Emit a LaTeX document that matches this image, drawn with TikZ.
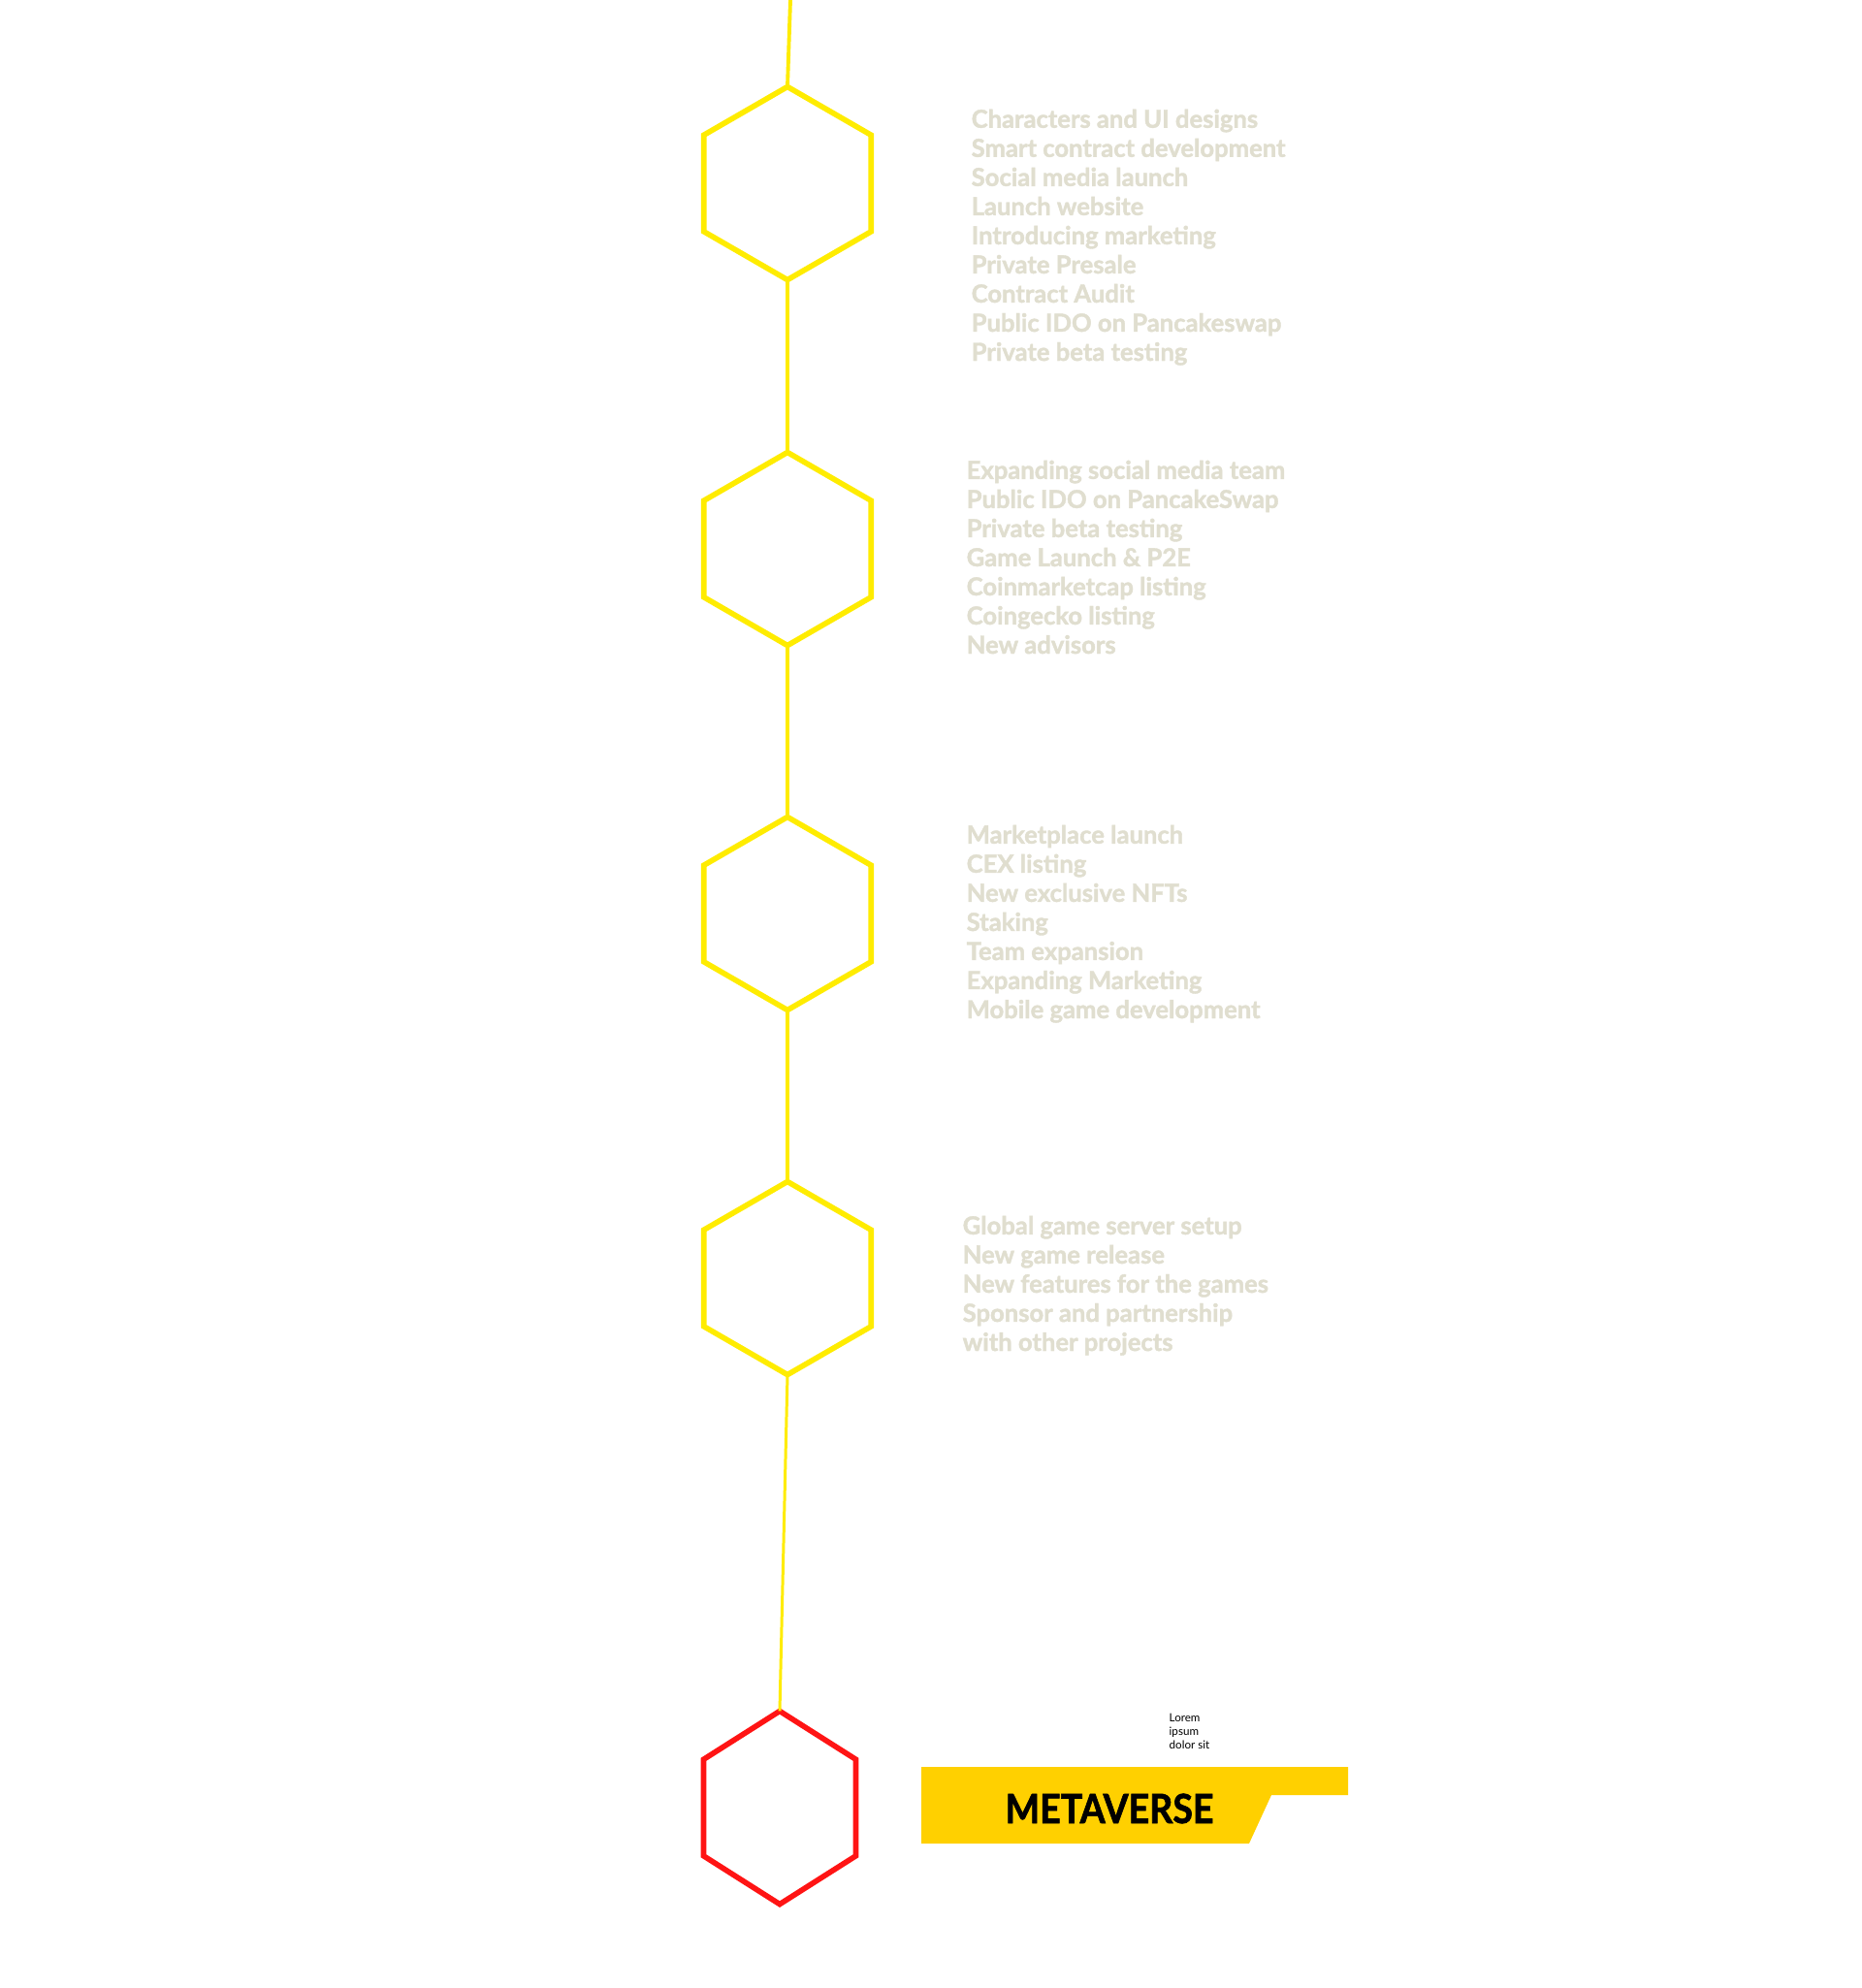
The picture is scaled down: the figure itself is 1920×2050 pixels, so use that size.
\documentclass[tikz,border=0pt]{standalone}
\usepackage{fontspec}
\setmainfont{Lato}
\newfontfamily\itemfont{Lato}[BoldFeatures={FakeBold=1.5}]
\newfontfamily\bannerfont{Lato}[FakeStretch=0.9,BoldFeatures={FakeBold=1.5}]
\usetikzlibrary{shapes.geometric}

\definecolor{hexyellow}{RGB}{255,236,0}
\definecolor{hexred}{RGB}{255,20,20}
\definecolor{itemgray}{RGB}{224,222,207}
\definecolor{banneryellow}{RGB}{255,208,0}

\begin{document}
\begin{tikzpicture}[x=0.01cm,y=-0.01cm,
    hexa/.style={regular polygon,regular polygon sides=6,shape border rotate=30,draw=hexyellow,line width=1.6pt,minimum size=1.99cm,inner sep=0pt,outer sep=0pt},
    items/.style={anchor=base west,align=left,inner sep=0pt,text=itemgray,font=\itemfont\bfseries\fontsize{7.28pt}{8.54pt}\selectfont},
    link/.style={draw=hexyellow,line width=1.1pt}]
        \fill[white] (0,0) rectangle (1920,2050);
        \useasboundingbox (0,0) rectangle (1920,2050);

        \node[hexa] (h1) at (812,189) {};
        \node[hexa] (h2) at (812,566) {};
        \node[hexa] (h3) at (812,942) {};
        \node[hexa] (h4) at (812,1318) {};
        \node[hexa,draw=hexred,shift={(804,1864)},xscale=0.91,transform shape] (h5) at (0,0) {};

        \coordinate (top) at (815,0);
        \draw[link] (top) -- (h1.90);
        \draw[link] (h1.270) -- (h2.90);
        \draw[link] (h2.270) -- (h3.90);
        \draw[link] (h3.270) -- (h4.90);
        \draw[link,line width=0.85pt] (h4.270) -- (h5.90);

        % lists, placed by the baseline of their last line
        \node[items] (p1) at (1001,372) {Characters and UI designs\\Smart contract development\\Social media launch\\Launch website\\Introducing marketing\\Private Presale\\Contract Audit\\Public IDO on Pancakeswap\\Private beta testing};
        \node[items] (p2) at (996,674) {Expanding social media team\\Public IDO on PancakeSwap\\Private beta testing\\Game Launch \& P2E\\Coinmarketcap listing\\Coingecko listing\\New advisors};
        \node[items] (p3) at (996,1050) {Marketplace launch\\CEX listing\\New exclusive NFTs\\Staking\\Team expansion\\Expanding Marketing\\Mobile game development};
        \node[items] (p4) at (992,1393) {Global game server setup\\New game release\\New features for the games\\Sponsor and partnership\\with other projects};

        % banner
        \fill[banneryellow] (950,1822) -- (1390,1822) -- (1390,1851) -- (1311,1851) -- (1288,1901) -- (950,1901) -- cycle;
        \node[anchor=base west,inner sep=0pt] (meta) at (1036,1880) {\bannerfont\bfseries\fontsize{11.86pt}{12pt}\selectfont METAVERSE};
        \node[anchor=base west,align=left,inner sep=0pt,font=\fontsize{3.3pt}{3.98pt}\selectfont] (lorem) at (1205,1803) {Lorem\\ipsum\\dolor sit};
    \end{tikzpicture}
\end{document}
